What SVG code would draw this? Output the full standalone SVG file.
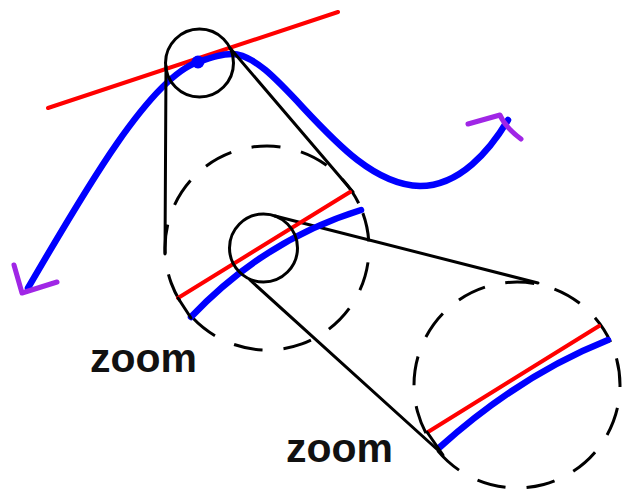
<svg xmlns="http://www.w3.org/2000/svg" width="623" height="495" viewBox="0 0 623 495">
<style>
.blk{fill:none;stroke:#000;stroke-width:3;stroke-linecap:round}
.dash{fill:none;stroke:#000;stroke-width:3;stroke-dasharray:29 21}
.red{fill:none;stroke:#ff0000;stroke-width:4;stroke-linecap:round}
.blue{fill:none;stroke:#0000ff;stroke-width:6.5;stroke-linecap:round}
.pur{fill:none;stroke:#a026e6;stroke-width:5;stroke-linecap:round;stroke-linejoin:round}
.lbl{font-family:"Liberation Sans",Arial,sans-serif;font-weight:bold;font-size:41px;fill:#111}
</style>
<rect width="623" height="495" fill="#fff"/>
<g id="curve">
<line class="red" x1="48" y1="108" x2="338" y2="12"/>
<path class="blue" d="M28 288 C85 190 150 78 198 62 C213 57 222 54 232 54 C280 54 340 184 420 186 C460 186 490 150 508 120"/>
<circle cx="198" cy="62" r="6.5" fill="#0000ff"/>
<path class="pur" d="M14 265 L22 293 L57 282"/>
<path class="pur" d="M468 124 L500 115 Q505 127 521 139"/>
</g>
<g id="connectors">
<line class="blk" x1="166" y1="66" x2="165" y2="254"/>
<line class="blk" x1="230" y1="48" x2="353" y2="192"/>
<line class="blk" x1="275" y1="216" x2="538" y2="283"/>
<line class="blk" x1="250" y1="280" x2="440" y2="452"/>
</g>
<g id="lens1">
<circle class="blk" cx="199.5" cy="63" r="34"/>
</g>
<g id="zoom1">
<circle class="dash" cx="267" cy="248" r="102" transform="rotate(-20 267 248)"/>
<line class="red" x1="178" y1="298" x2="350" y2="192"/>
<path class="blue" d="M191 317 Q264 240 361 210"/>
<line class="blk" x1="178" y1="298" x2="191" y2="318"/>
</g>
<g id="lens2">
<circle class="blk" cx="263.5" cy="248" r="34"/>
</g>
<g id="zoom2">
<circle class="dash" cx="517" cy="385" r="103" transform="rotate(-15 517 385)"/>
<line class="red" x1="428" y1="432" x2="599" y2="326"/>
<path class="blue" d="M440 447 Q520 375 608 340" stroke-width="10"/>
<line class="blk" x1="427" y1="432" x2="443" y2="455"/>
</g>
<g id="label1"><text class="lbl" x="90" y="372">zoom</text></g>
<g id="label2"><text class="lbl" x="286" y="462">zoom</text></g>
</svg>
